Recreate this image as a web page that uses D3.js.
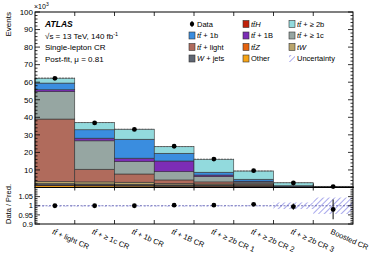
<!DOCTYPE html>
<html>
<head>
<meta charset="utf-8">
<script src="https://cdn.jsdelivr.net/npm/d3@7"></script>
<style>
  body { margin: 0; background: #fff; }
  svg { font-family: "Liberation Sans", Arial, sans-serif; }
</style>
</head>
<body>
<script>
// regions (bins)
const regions = ["light", "ge1c", "1b", "1B", "ge2b1", "ge2b2", "ge2b3", "boosted"];
const regionLabels = [
  ["+ light CR"], ["+ \u2265 1c CR"], ["+ 1b CR"], ["+ 1B CR"],
  ["+ \u2265 2b CR 1"], ["+ \u2265 2b CR 2"], ["+ \u2265 2b CR 3"], ["Boosted CR"]
];

// stacked backgrounds, in units of 10^3 events, bottom to top
const other  = [1.0, 0.9, 0.8, 0.6, 0.5, 0.4, 0.08, 0.02];
const ttZ    = [0.3, 0.3, 0.3, 0.3, 0.3, 0.25, 0.04, 0.02];
const ttH    = [0.2, 0.2, 0.2, 0.2, 0.3, 0.25, 0.05, 0.02];
const wjets  = [0.7, 0.6, 0.5, 0.4, 0.3, 0.25, 0.03, 0.02];
const tW     = [1.2, 1.2, 1.2, 0.8, 0.6, 0.45, 0.1, 0.02];
const light  = [35.6, 7.2, 4.7, 2.0, 1.2, 0.6, 0.1, 0.05];
const ge1c   = [15.6, 16.2, 7.0, 4.7, 3.0, 0.9, 0.2, 0.08];
const oneB   = [1.1, 1.5, 2.0, 6.1, 0.9, 0.5, 0.1, 0.04];
const oneb   = [3.8, 4.8, 10.8, 4.4, 1.6, 1.1, 0.3, 0.08];
const ge2b   = [2.8, 4.1, 5.7, 3.8, 7.4, 4.7, 1.7, 0.25];

const dataVals = [62.2, 36.8, 33.1, 23.5, 16.2, 9.6, 2.55, 0.55];
const ratioVals = [1.0, 1.0, 1.0, 1.003, 1.003, 1.008, 0.995, 0.98];
const ratioErr  = [0.002, 0.002, 0.002, 0.003, 0.004, 0.006, 0.017, 0.054];
const uncVals   = [0.002, 0.002, 0.002, 0.002, 0.003, 0.003, 0.018, 0.045];

const yTicks = [10, 20, 30, 40, 50, 60, 70, 80, 90, 100];
const rTicks = [0.9, 0.95, 1, 1.05];

const series = [
  { key: "Other", vals: other, color: "#f7a416" },
  { key: "ttZ", vals: ttZ, color: "#e4620f" },
  { key: "ttH", vals: ttH, color: "#c0210a" },
  { key: "W+jets", vals: wjets, color: "#5f6673" },
  { key: "tW", vals: tW, color: "#b9a56c" },
  { key: "light", vals: light, color: "#b06b5c" },
  { key: "ge1c", vals: ge1c, color: "#96a6a2" },
  { key: "1B", vals: oneB, color: "#7c2db6" },
  { key: "1b", vals: oneb, color: "#3a8ddf" },
  { key: "ge2b", vals: ge2b, color: "#92dadd" }
];

const W = 374, H = 260;
const x0 = 35, x1 = 353;
const yTop = 12, yMid = 187.5, yBot = 224;

const svg = d3.select("body").append("svg")
  .attr("width", W).attr("height", H);

const defs = svg.append("defs");
const pat = defs.append("pattern")
  .attr("id", "hatch").attr("patternUnits", "userSpaceOnUse")
  .attr("width", 4).attr("height", 4)
  .attr("patternTransform", "rotate(45)");
pat.append("line").attr("x1", 0).attr("y1", 0).attr("x2", 0).attr("y2", 4)
  .attr("stroke", "#6f6fe0").attr("stroke-width", 1.2);

const x = d3.scaleBand().domain(regions).range([x0, x1]).padding(0);
const y = d3.scaleLinear().domain([0, 100]).range([yMid, yTop]);
const yr = d3.scaleLinear().domain([0.9, 1.1]).range([yBot, yMid]);

// stack
const table = regions.map((r, i) => {
  const o = { region: r };
  series.forEach(s => o[s.key] = s.vals[i]);
  return o;
});
const stack = d3.stack().keys(series.map(s => s.key))(table);

const gStack = svg.append("g");
stack.forEach((layer, li) => {
  gStack.selectAll(null).data(layer).enter().append("rect")
    .attr("x", d => x(d.data.region))
    .attr("width", x.bandwidth())
    .attr("y", d => y(d[1]))
    .attr("height", d => Math.max(0, y(d[0]) - y(d[1])))
    .attr("fill", series[li].color)
    .attr("stroke", "#333").attr("stroke-width", 0.6);
});

// top edge dashed (uncertainty look)
const totals = stack[stack.length - 1].map(d => d[1]);
svg.append("g").selectAll("line").data(regions).enter().append("line")
  .attr("x1", d => x(d)).attr("x2", d => x(d) + x.bandwidth())
  .attr("y1", (d, i) => y(totals[i])).attr("y2", (d, i) => y(totals[i]))
  .attr("stroke", "#555").attr("stroke-width", 0.8).attr("stroke-dasharray", "2,1");

// data points
svg.append("g").selectAll("circle").data(dataVals).enter().append("circle")
  .attr("cx", (d, i) => x(regions[i]) + x.bandwidth() / 2)
  .attr("cy", d => y(d)).attr("r", 2.4).attr("fill", "#000");

// ratio panel: uncertainty band
svg.append("g").selectAll("rect").data(uncVals).enter().append("rect")
  .attr("x", (d, i) => x(regions[i]))
  .attr("width", x.bandwidth())
  .attr("y", d => yr(1 + d))
  .attr("height", d => Math.max(1.2, yr(1 - d) - yr(1 + d)))
  .attr("fill", "url(#hatch)");

svg.append("line")
  .attr("x1", x0).attr("x2", x1).attr("y1", yr(1)).attr("y2", yr(1))
  .attr("stroke", "#5555aa").attr("stroke-width", 0.8).attr("stroke-dasharray", "2,1.5");

const gR = svg.append("g");
gR.selectAll("line").data(ratioVals).enter().append("line")
  .attr("x1", (d, i) => x(regions[i]) + x.bandwidth() / 2)
  .attr("x2", (d, i) => x(regions[i]) + x.bandwidth() / 2)
  .attr("y1", (d, i) => yr(d + ratioErr[i]))
  .attr("y2", (d, i) => yr(d - ratioErr[i]))
  .attr("stroke", "#333").attr("stroke-width", 1.2);
gR.selectAll("circle").data(ratioVals).enter().append("circle")
  .attr("cx", (d, i) => x(regions[i]) + x.bandwidth() / 2)
  .attr("cy", d => yr(d)).attr("r", 2.4).attr("fill", "#000");

// frames
svg.append("rect").attr("x", x0).attr("y", yTop).attr("width", x1 - x0).attr("height", yMid - yTop)
  .attr("fill", "none").attr("stroke", "#000").attr("stroke-width", 1);
svg.append("rect").attr("x", x0).attr("y", yMid).attr("width", x1 - x0).attr("height", yBot - yMid)
  .attr("fill", "none").attr("stroke", "#000").attr("stroke-width", 1);

// ticks
const tickG = svg.append("g").attr("stroke", "#000").attr("stroke-width", 0.8);
const edges = regions.slice(1).map(r => x(r));
edges.forEach(e => {
  tickG.append("line").attr("x1", e).attr("x2", e).attr("y1", yTop).attr("y2", yTop + 4);
  tickG.append("line").attr("x1", e).attr("x2", e).attr("y1", yMid).attr("y2", yMid - 4);
  tickG.append("line").attr("x1", e).attr("x2", e).attr("y1", yMid).attr("y2", yMid + 3);
  tickG.append("line").attr("x1", e).attr("x2", e).attr("y1", yBot).attr("y2", yBot - 4);
});
d3.range(0, 101, 2).forEach(v => {
  const len = v % 10 === 0 ? 5 : 2.5;
  tickG.append("line").attr("x1", x0).attr("x2", x0 + len).attr("y1", y(v)).attr("y2", y(v));
  tickG.append("line").attr("x1", x1).attr("x2", x1 - len).attr("y1", y(v)).attr("y2", y(v));
});
d3.range(0.9, 1.1001, 0.01).forEach(v => {
  const major = Math.abs(Math.round(v * 20) - v * 20) < 1e-6;
  const len = major ? 5 : 2.5;
  tickG.append("line").attr("x1", x0).attr("x2", x0 + len).attr("y1", yr(v)).attr("y2", yr(v));
  tickG.append("line").attr("x1", x1).attr("x2", x1 - len).attr("y1", yr(v)).attr("y2", yr(v));
});

// tick labels
svg.append("g").selectAll("text").data(yTicks).enter().append("text")
  .attr("x", x0 - 2).attr("y", d => y(d)).attr("dy", "0.35em")
  .attr("text-anchor", "end").attr("font-size", 8).text(d => d);
svg.append("g").selectAll("text").data(rTicks).enter().append("text")
  .attr("x", x0 - 2).attr("y", d => yr(d)).attr("dy", "0.35em")
  .attr("text-anchor", "end").attr("font-size", 7.5).text(d => d);

svg.append("text").attr("x", x0 - 1).attr("y", 9).attr("font-size", 7)
  .html('\u00d710<tspan dy="-3" font-size="5">3</tspan>');

svg.append("text").attr("transform", `translate(11,${yTop}) rotate(-90)`)
  .attr("text-anchor", "end").attr("font-size", 8).text("Events");
svg.append("text").attr("transform", `translate(11,${yBot}) rotate(-90)`)
  .attr("font-size", 7.5).text("Data / Pred.");

// x labels
const xl = svg.append("g").selectAll("text").data(regions).enter().append("text")
  .attr("transform", (d, i) => `translate(${x(d) + x.bandwidth() / 2 - 2},${yBot + 7}) rotate(24)`)
  .attr("font-size", 7.5).attr("dy", "0.35em");
xl.each(function (d, i) {
  const t = d3.select(this);
  if (i < 7) {
    t.append("tspan").attr("font-style", "italic").text("t\u0074\u0304");
    t.append("tspan").text(" " + regionLabels[i][0]);
  } else {
    t.text(regionLabels[i][0]);
  }
});

// ATLAS label
const lab = svg.append("g").attr("font-size", 8);
lab.append("text").attr("x", 45).attr("y", 27).attr("font-weight", "bold")
  .attr("font-style", "italic").attr("font-size", 8.5).text("ATLAS");
lab.append("text").attr("x", 45).attr("y", 38.5)
  .html('\u221As = 13 TeV, 140 fb<tspan dy="-3" font-size="5.5">-1</tspan>');
lab.append("text").attr("x", 45).attr("y", 50).text("Single-lepton CR");
lab.append("text").attr("x", 45).attr("y", 61.5).text("Post-fit, \u03bc = 0.81");

// legend
const legend = [
  { col: 0, row: 0, type: "data", label: "Data" },
  { col: 0, row: 1, color: "#3a8ddf", tt: true, label: " + 1b" },
  { col: 0, row: 2, color: "#b06b5c", tt: true, label: " + light" },
  { col: 0, row: 3, color: "#5f6673", label: "W", it: " + jets" },
  { col: 1, row: 0, color: "#c0210a", tt: true, label: "H", itl: true },
  { col: 1, row: 1, color: "#7c2db6", tt: true, label: " + 1B" },
  { col: 1, row: 2, color: "#e4620f", tt: true, label: "Z", itl: true },
  { col: 1, row: 3, color: "#f7a416", label: "Other" },
  { col: 2, row: 0, color: "#92dadd", tt: true, label: " + \u2265 2b" },
  { col: 2, row: 1, color: "#96a6a2", tt: true, label: " + \u2265 1c" },
  { col: 2, row: 2, color: "#b9a56c", label: "tW", itl: true },
  { col: 2, row: 3, type: "unc", label: "Uncertainty" }
];
const colX = [189, 243, 289];
const rowY = [24, 35.5, 47, 58.5];
const lg = svg.append("g").attr("font-size", 7.5);
legend.forEach(e => {
  const gx = colX[e.col], gy = rowY[e.row];
  if (e.type === "data") {
    lg.append("circle").attr("cx", gx + 3).attr("cy", gy).attr("r", 2.2).attr("fill", "#000");
    lg.append("line").attr("x1", gx + 3).attr("x2", gx + 3).attr("y1", gy - 3).attr("y2", gy + 3)
      .attr("stroke", "#000").attr("stroke-width", 1);
  } else if (e.type === "unc") {
    lg.append("rect").attr("x", gx).attr("y", gy - 3.5).attr("width", 6).attr("height", 7)
      .attr("fill", "url(#hatch)");
  } else {
    lg.append("rect").attr("x", gx).attr("y", gy - 3.5).attr("width", 6).attr("height", 7)
      .attr("fill", e.color).attr("stroke", "#333").attr("stroke-width", 0.6);
  }
  const t = lg.append("text").attr("x", gx + 8).attr("y", gy).attr("dy", "0.35em");
  if (e.tt) t.append("tspan").attr("font-style", "italic").text("t\u0074\u0304");
  if (e.it) {
    t.append("tspan").attr("font-style", "italic").text(e.label);
    t.append("tspan").text(e.it);
  } else {
    t.append("tspan").attr("font-style", e.itl ? "italic" : null).text(e.label);
  }
});
</script>
</body>
</html>
